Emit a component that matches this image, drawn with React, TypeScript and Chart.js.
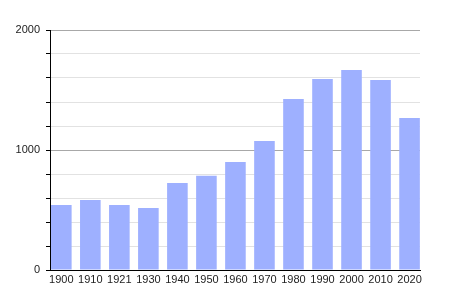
import React, { useEffect, useRef } from "react";
import { Chart, registerables } from "chart.js";

Chart.register(...registerables);

const years = ["1900", "1910", "1921", "1930", "1940", "1950", "1960", "1970", "1980", "1990", "2000", "2010", "2020"];
const population = [542, 583, 542, 517, 725, 786, 900, 1075, 1425, 1592, 1667, 1583, 1267];
const yTickLabels = [0, 1000, 2000];

export default function App() {
  const ref = useRef<HTMLCanvasElement>(null);
  useEffect(() => {
    if (!ref.current) return;
    const font = { family: "'Liberation Sans', Arial, sans-serif", size: 11 };
    const chart = new Chart(ref.current, {
      type: "bar",
      data: {
        datasets: [
          {
            data: population.map((v, i) => ({ x: i, y: v })),
            backgroundColor: "rgb(158,176,255)",
            borderWidth: 0,
            barPercentage: 0.71,
            categoryPercentage: 1,
          },
        ],
      },
      options: {
        animation: false,
        responsive: false,
        maintainAspectRatio: false,
        layout: { padding: { left: 0, right: 30, top: 30, bottom: 0 } },
        plugins: { legend: { display: false }, tooltip: { enabled: false } },
        scales: {
          x: {
            type: "linear",
            offset: false,
            min: -0.39,
            max: 12.36,
            grid: { display: false, drawTicks: false },
            border: { display: true, color: "#000", width: 1 },
            afterBuildTicks: (s: any) => {
              s.ticks = years.map((_, i) => ({ value: i }));
            },
            ticks: {
              autoSkip: false,
              maxRotation: 0,
              padding: 3,
              color: "#222",
              font,
              callback: (v: any) => {
                const n = Math.round(Number(v));
                return years[n] !== undefined ? years[n] : "";
              },
            },
            afterFit: (s: any) => {
              s.height = 30;
            },
          },
          y: {
            min: 0,
            max: 2000,
            grid: {
              drawTicks: true,
              tickLength: 4,
              tickColor: "#000",
              color: (ctx: any) => {
                const v = ctx.tick?.value;
                if (v === 0) return "#000";
                return v % 1000 === 0 ? "#a8a8a8" : "#e2e2e2";
              },
            },
            border: { display: true, color: "#000", width: 1 },
            ticks: {
              stepSize: 200,
              autoSkip: false,
              padding: 6,
              color: "#222",
              font,
              callback: (v: any) => (yTickLabels.includes(Number(v)) ? String(v) : ""),
            },
            afterFit: (s: any) => {
              s.width = 50;
            },
          },
        },
      },
    });
    return () => chart.destroy();
  }, []);
  return (
    <div style={{ position: "fixed", left: 0, top: 0, width: 450, height: 300, background: "#fff" }}>
      <canvas ref={ref} width={450} height={300} style={{ width: 450, height: 300 }} />
    </div>
  );
}
